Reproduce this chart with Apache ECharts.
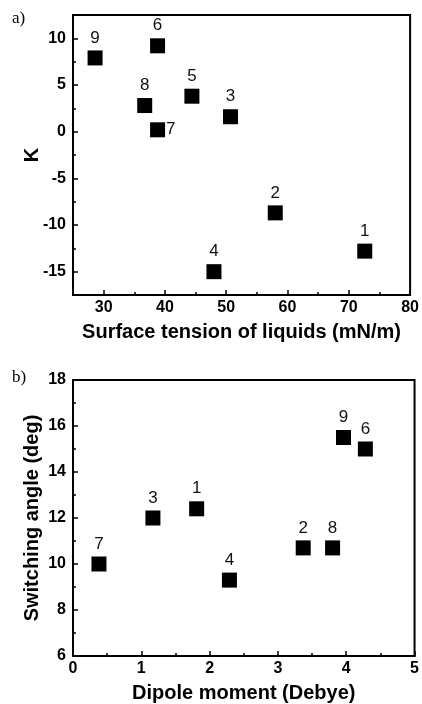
<!DOCTYPE html>
<html><head><meta charset="utf-8">
<script src="https://cdn.jsdelivr.net/npm/echarts@6/dist/echarts.min.js"></script>
<style>html,body{margin:0;padding:0;background:#fff}#c{width:422px;height:704px}</style>
</head><body><div id="c"></div>
<script>
// Panel a)
const idsA = ['1','2','3','4','5','6','7','8','9'];
const surfaceTension = [72.6, 58.0, 50.7, 48.0, 44.4, 38.8, 38.8, 36.7, 28.6];
const kValues = [-12.8, -8.7, 1.6, -15.0, 3.8, 9.2, 0.2, 2.8, 7.9];
const xTicksA = [30, 40, 50, 60, 70, 80];
const xMinorA = [35, 45, 55, 65, 75];
const yTicksA = [-15, -10, -5, 0, 5, 10];
const yMinorA = [-12.5, -7.5, -2.5, 2.5, 7.5];
const rightLabelIdsA = ['7'];

// Panel b)
const idsB = ['1','2','3','4','6','7','8','9'];
const dipoleMoment = [1.81, 3.37, 1.17, 2.29, 4.28, 0.38, 3.80, 3.96];
const switchingAngle = [12.4, 10.7, 12.0, 9.3, 15.0, 10.0, 10.7, 15.5];
const xTicksB = [0, 1, 2, 3, 4, 5];
const xMinorB = [0.5, 1.5, 2.5, 3.5, 4.5];
const yTicksB = [6, 8, 10, 12, 14, 16, 18];
const yMinorB = [7, 9, 11, 13, 15, 17];

const FONT = 'Liberation Sans, Arial, sans-serif';

function mainAxis(gridIndex, position, min, max, ticks, name, nameGap) {
  const isY = position === 'left';
  return {
    type: 'value', gridIndex, position, min, max,
    name, nameLocation: 'middle', nameGap, nameMoveOverlap: false,
    nameTextStyle: { fontFamily: FONT, fontWeight: 'bold', fontSize: 20, color: '#000' },
    axisLine: { show: true, onZero: false, lineStyle: { color: '#000', width: 2 } },
    axisTick: { show: true, inside: true, length: 5, customValues: ticks, lineStyle: { color: '#000', width: 1.5 } },
    axisLabel: { show: true, customValues: ticks, margin: isY ? 7 : 5, fontFamily: FONT, fontWeight: 'bold', fontSize: 16, color: '#000' },
    splitLine: { show: false }
  };
}
function minorAxis(gridIndex, position, min, max, ticks) {
  return {
    type: 'value', gridIndex, position, min, max,
    axisLine: { show: false, onZero: false },
    axisTick: { show: true, inside: true, length: 3, customValues: ticks, lineStyle: { color: '#000', width: 1.5 } },
    axisLabel: { show: false },
    splitLine: { show: false }
  };
}

function seriesFor(xIdx, yIdx, ids, xs, ys, rightIds) {
  return {
    type: 'scatter', xAxisIndex: xIdx, yAxisIndex: yIdx,
    symbol: 'rect', symbolSize: 15,
    itemStyle: { color: '#000', opacity: 1 },
    emphasis: { disabled: true },
    label: { show: true, position: 'top', distance: 4, formatter: p => p.data.value[2],
             fontFamily: FONT, fontSize: 17, color: '#111' },
    data: ids.map((id, i) => {
      const item = { value: [xs[i], ys[i], id] };
      if (rightIds.includes(id)) item.label = { position: 'right', distance: 1 };
      return item;
    })
  };
}

const chart = echarts.init(document.getElementById('c'), null, { renderer: 'canvas' });
chart.setOption({
  animation: false,
  backgroundColor: '#fff',
  grid: [
    { left: 73, right: 8, top: 15, height: 280, show: true, borderColor: '#000', borderWidth: 2 },
    { left: 73, right: 7, top: 380, height: 278, show: true, borderColor: '#000', borderWidth: 2 }
  ],
  xAxis: [
    mainAxis(0, 'bottom', 25, 80, xTicksA, 'Surface tension of liquids (mN/m)', 27),
    minorAxis(0, 'bottom', 25, 80, xMinorA),
    mainAxis(1, 'bottom', 0, 5, xTicksB, 'Dipole moment (Debye)', 27),
    minorAxis(1, 'bottom', 0, 5, xMinorB)
  ],
  yAxis: [
    mainAxis(0, 'left', -17.5, 12.5, yTicksA, 'K', 31),
    minorAxis(0, 'left', -17.5, 12.5, yMinorA),
    mainAxis(1, 'left', 6, 18, yTicksB, 'Switching angle (deg)', 31),
    minorAxis(1, 'left', 6, 18, yMinorB)
  ],
  graphic: [
    { type: 'text', left: 12, top: 10, style: { text: 'a)', font: '17px "Liberation Serif", serif', fill: '#000' } },
    { type: 'text', left: 12, top: 369, style: { text: 'b)', font: '17px "Liberation Serif", serif', fill: '#000' } }
  ],
  series: [
    seriesFor(0, 0, idsA, surfaceTension, kValues, rightLabelIdsA),
    seriesFor(2, 2, idsB, dipoleMoment, switchingAngle, [])
  ]
});
</script>
</body></html>
